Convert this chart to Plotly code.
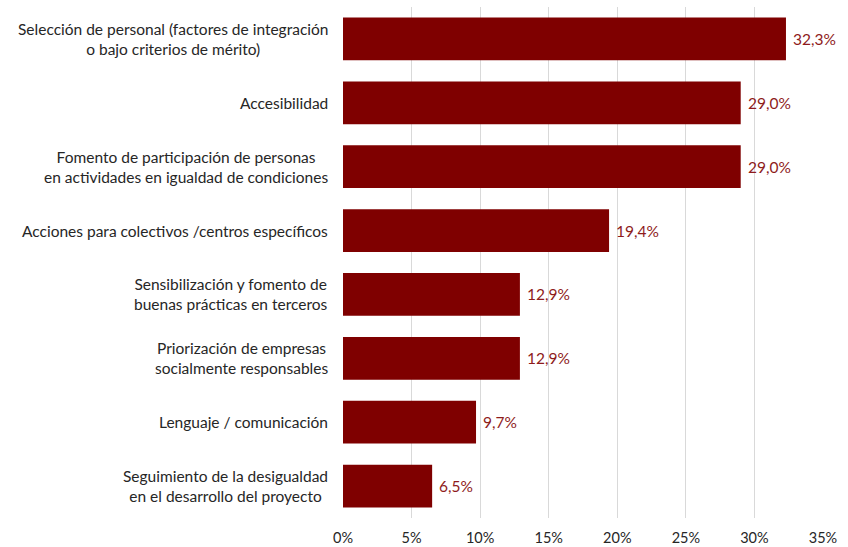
import plotly.graph_objects as go

# Categories (top to bottom) and their shares in percent
categories = [
    "Selección de personal (factores de integración<br>o bajo criterios de mérito)",
    "Accesibilidad",
    "Fomento de participación de personas<br>en actividades en igualdad de condiciones",
    "Acciones para colectivos /centros específicos",
    "Sensibilización y fomento de<br>buenas prácticas en terceros",
    "Priorización de empresas<br>socialmente responsables",
    "Lenguaje / comunicación",
    "Seguimiento de la desigualdad<br>en el desarrollo del proyecto",
]
values = [32.3, 29.0, 29.0, 19.4, 12.9, 12.9, 9.7, 6.5]
tick_values = [0, 5, 10, 15, 20, 25, 30, 35]
tick_labels = ["0%", "5%", "10%", "15%", "20%", "25%", "30%", "35%"]

FONT = "Lato, 'Open Sans', sans-serif"
BAR_COLOR = "#7F0000"
LABEL_COLOR = "#8E1B1B"
TEXT_COLOR = "#262626"

value_text = [f"{v:.1f}%".replace(".", ",") for v in values]
ypos = list(range(len(categories)))

fig = go.Figure(
    go.Bar(
        x=values,
        y=ypos,
        orientation="h",
        marker=dict(color=BAR_COLOR, line=dict(width=0)),
        width=0.67,
        hoverinfo="skip",
    )
)

# Value labels just past the end of each bar
for y, v, t in zip(ypos, values, value_text):
    fig.add_annotation(
        x=v, xref="x", xanchor="left", xshift=5,
        y=y, yref="y", yanchor="middle",
        text=t, showarrow=False,
        font=dict(family=FONT, size=15.5, color=LABEL_COLOR),
    )

# Centered multi-line category labels to the left of the plot area
for y, cat in zip(ypos, categories):
    fig.add_annotation(
        x=0, xref="paper", xanchor="right", xshift=-13,
        y=y, yref="y", yanchor="middle",
        text=cat, showarrow=False, align="center",
        font=dict(family=FONT, size=15.5, color=TEXT_COLOR),
    )

fig.update_layout(
    width=848,
    height=547,
    margin=dict(l=343, r=25, t=7, b=29),
    paper_bgcolor="white",
    plot_bgcolor="white",
    showlegend=False,
)
fig.update_xaxes(
    range=[0, 35],
    tickvals=tick_values,
    ticktext=tick_labels,
    showgrid=True,
    gridcolor="#D9D9D9",
    gridwidth=1,
    zeroline=False,
    showline=False,
    ticks="",
    tickfont=dict(family=FONT, size=14.5, color=TEXT_COLOR),
    ticklabelstandoff=9,
    automargin=False,
    fixedrange=True,
)
fig.update_yaxes(
    range=[7.5, -0.5],
    showticklabels=False,
    showgrid=False,
    zeroline=False,
    showline=False,
    ticks="",
    automargin=False,
    fixedrange=True,
)

fig.write_html("out.html")
